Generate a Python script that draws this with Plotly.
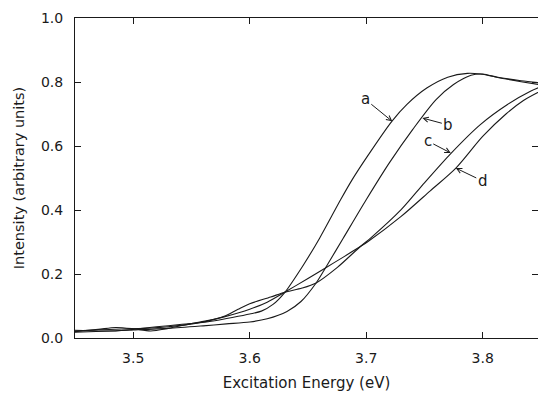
import plotly.graph_objects as go

# ---- data ----
a_x = [3.45, 3.47, 3.49, 3.51, 3.53, 3.55, 3.57, 3.585, 3.60, 3.61, 3.62, 3.63, 3.645, 3.66,
       3.678, 3.688, 3.702, 3.722, 3.735, 3.752, 3.77, 3.787, 3.798, 3.813, 3.833, 3.85]
a_y = [0.022, 0.026, 0.028, 0.030, 0.035, 0.044, 0.054, 0.064, 0.075, 0.084, 0.105, 0.142, 0.222, 0.312,
       0.432, 0.495, 0.573, 0.677, 0.730, 0.781, 0.815, 0.827, 0.825, 0.815, 0.804, 0.797]

b_x = [3.45, 3.48, 3.50, 3.53, 3.56, 3.58, 3.60, 3.615, 3.632, 3.644, 3.657, 3.665, 3.68, 3.70,
       3.72, 3.74, 3.76, 3.775, 3.79, 3.80, 3.813, 3.833, 3.85]
b_y = [0.018, 0.022, 0.025, 0.030, 0.038, 0.044, 0.050, 0.060, 0.083, 0.114, 0.172, 0.219, 0.310, 0.432,
       0.548, 0.652, 0.745, 0.792, 0.821, 0.825, 0.814, 0.801, 0.791]

c_x = [3.45, 3.47, 3.485, 3.50, 3.515, 3.53, 3.55, 3.565, 3.578, 3.59, 3.60, 3.618, 3.63, 3.645,
       3.657, 3.675, 3.695, 3.704, 3.73, 3.75, 3.773, 3.798, 3.821, 3.841, 3.85]
c_y = [0.020, 0.027, 0.033, 0.029, 0.022, 0.030, 0.045, 0.055, 0.068, 0.090, 0.107, 0.128, 0.143, 0.156,
       0.172, 0.220, 0.286, 0.313, 0.401, 0.485, 0.578, 0.667, 0.729, 0.771, 0.785]

d_x = [3.45, 3.47, 3.485, 3.50, 3.52, 3.54, 3.56, 3.578, 3.60, 3.615, 3.63, 3.65, 3.665, 3.68,
       3.695, 3.701, 3.73, 3.755, 3.777, 3.80, 3.82, 3.835, 3.85]
d_y = [0.024, 0.022, 0.022, 0.027, 0.035, 0.042, 0.050, 0.066, 0.090, 0.112, 0.143, 0.186, 0.219, 0.252,
       0.286, 0.300, 0.380, 0.460, 0.531, 0.630, 0.700, 0.742, 0.772]

x_ticks = [3.5, 3.6, 3.7, 3.8]
y_ticks = [0.0, 0.2, 0.4, 0.6, 0.8, 1.0]

labels = ["a", "b", "c", "d"]
# point on each curve the label arrow points at
label_x = [3.7224, 3.7482, 3.7726, 3.7769]
label_y = [0.677, 0.6875, 0.578, 0.531]
label_ax = [-27, 26, -23, 27]
label_ay = [-22, 7, -12, 13]

FONT = "DejaVu Sans"
INK = "#1a1a1a"

fig = go.Figure()
for xs, ys in [(a_x, a_y), (b_x, b_y), (c_x, c_y), (d_x, d_y)]:
    fig.add_trace(go.Scatter(x=xs, y=ys, mode="lines",
                             line=dict(color=INK, width=1.1, shape="spline", smoothing=0.8),
                             showlegend=False, hoverinfo="skip"))
# dummy trace to show the right-hand inward ticks
fig.add_trace(go.Scatter(x=[None], y=[None], yaxis="y2", showlegend=False))

for t, px, py, ax, ay in zip(labels, label_x, label_y, label_ax, label_ay):
    fig.add_annotation(x=px, y=py, text=t, showarrow=True, ax=ax, ay=ay,
                       arrowhead=5, arrowsize=1, arrowwidth=1, arrowcolor=INK,
                       font=dict(family=FONT, size=15, color=INK))

fig.update_layout(
    width=538, height=395,
    margin=dict(l=75, r=0, t=18, b=57),
    paper_bgcolor="white", plot_bgcolor="white",
    font=dict(family=FONT, size=14, color=INK),
    xaxis=dict(range=[3.45, 3.8475], tickvals=x_ticks, tickformat=".1f",
               ticks="inside", ticklen=6, tickcolor=INK, showline=True, linecolor=INK,
               linewidth=1, mirror="ticks", showgrid=False, zeroline=False,
               ticklabelstandoff=7, tickfont=dict(family=FONT, size=14, color=INK),
               title=dict(text="Excitation Energy (eV)", standoff=12,
                          font=dict(family=FONT, size=15, color=INK))),
    yaxis=dict(range=[0, 1.0], tickvals=y_ticks, tickformat=".1f",
               ticks="inside", ticklen=6, tickcolor=INK, showline=True, linecolor=INK,
               linewidth=1, showgrid=False, zeroline=False, ticklabelstandoff=8,
               tickfont=dict(family=FONT, size=14, color=INK),
               title=dict(text="Intensity (arbitrary units)", standoff=12,
                          font=dict(family=FONT, size=14.5, color=INK))),
    yaxis2=dict(overlaying="y", side="right", anchor="x", range=[0, 1.0], tickvals=y_ticks,
                ticks="inside", ticklen=6, tickcolor=INK, showline=False,
                showticklabels=False, showgrid=False, zeroline=False),
)

fig.write_html("out.html")
